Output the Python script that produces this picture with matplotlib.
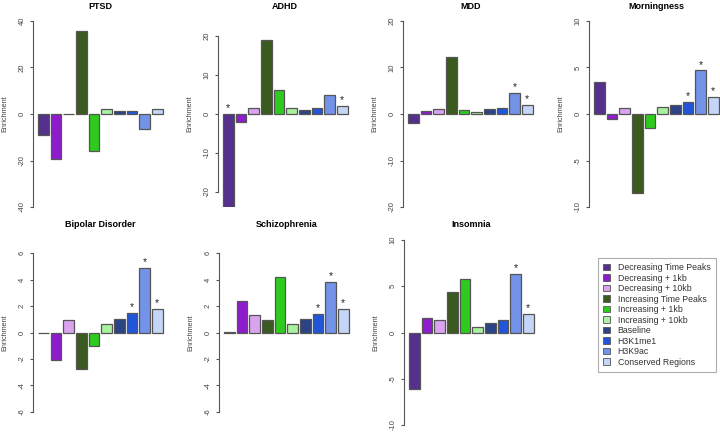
#!/usr/bin/env python

import matplotlib
matplotlib.use('Agg')
import matplotlib.pyplot as plt
from matplotlib.patches import Patch

plt.rcParams['font.family'] = ['Liberation Sans', 'DejaVu Sans']

categories = ['Decreasing Time Peaks', 'Decreasing + 1kb', 'Decreasing + 10kb',
              'Increasing Time Peaks', 'Increasing + 1kb', 'Increasing + 10kb',
              'Baseline', 'H3K1me1', 'H3K9ac', 'Conserved Regions']
colors = ['#55308d', '#8e1ccc', '#d9a3f0', '#3b5a20', '#2ecb1e', '#a9f0a0',
          '#2b4485', '#2156db', '#7393e8', '#c5d5f7']

traits = ['PTSD', 'ADHD', 'MDD', 'Morningness', 'Bipolar Disorder', 'Schizophrenia', 'Insomnia']

ptsd = [-9.2, -19.2, 0.2, 35.6, -16.1, 2.0, 1.1, 1.3, -6.5, 2.3]
adhd = [-23.9, -2.0, 1.5, 18.9, 6.1, 1.5, 1.0, 1.5, 5.0, 2.0]
mdd = [-1.9, 0.7, 1.1, 12.2, 0.9, 0.5, 1.0, 1.2, 4.5, 1.9]
morningness = [3.45, -0.5, 0.65, -8.45, -1.5, 0.75, 1.0, 1.33, 4.7, 1.87]
bipolar = [-0.03, -2.06, 0.97, -2.77, -1.04, 0.64, 0.99, 1.48, 4.91, 1.76]
schizophrenia = [0.04, 2.37, 1.32, 0.92, 4.22, 0.64, 0.99, 1.40, 3.84, 1.78]
insomnia = [-6.14, 1.62, 1.37, 4.40, 5.74, 0.58, 1.01, 1.34, 6.35, 1.99]

# significance stars, index of bar
ptsd_sig = []
adhd_sig = [0, 9]
mdd_sig = [8, 9]
morningness_sig = [7, 8, 9]
bipolar_sig = [7, 8, 9]
schizophrenia_sig = [7, 8, 9]
insomnia_sig = [8, 9]

ylims = [40, 23.9, 20, 10, 7, 7, 10]
yticks = [[-40, -20, 0, 20, 40], [-20, -10, 0, 10, 20], [-20, -10, 0, 10, 20],
          [-10, -5, 0, 5, 10], [-6, -4, -2, 0, 2, 4, 6], [-6, -4, -2, 0, 2, 4, 6],
          [-10, -5, 0, 5, 10]]

values = [ptsd, adhd, mdd, morningness, bipolar, schizophrenia, insomnia]
sigs = [ptsd_sig, adhd_sig, mdd_sig, morningness_sig, bipolar_sig, schizophrenia_sig, insomnia_sig]

W, H = 720, 432
# plot regions in pixels: left edge, top, bottom, title baseline
regions = [(33, 21, 207, 9), (218, 21, 207, 9), (403, 21, 207, 9), (589, 21, 207, 9),
           (33, 240, 425, 227), (219, 240, 425, 227), (404, 240, 425, 227)]
panel_w = 134.5

axis_col = '#555555'

fig = plt.figure(figsize=(W / 100, H / 100), dpi=100)

# R style barplot positions: width 1, space 0.2
xpos = [0.7 + 1.2 * i for i in range(len(categories))]

for name, vals, sig, lim, ticks, (left, top, bottom, tb) in zip(traits, values, sigs, ylims, yticks, regions):
    ax = fig.add_axes([left / W, 1 - bottom / H, panel_w / W, (bottom - top) / H])
    ax.bar(xpos, vals, width=1.0, color=colors, edgecolor=axis_col, linewidth=0.9)
    for i in sig:
        ax.annotate('*', (xpos[i], max(vals[i], 0)), xytext=(0, 0.5), textcoords='offset points',
                    ha='center', va='bottom', fontsize=7.5, color='#222222')
    ax.set_xlim(-0.272, 12.472)
    ax.set_ylim(-lim, lim)
    ax.set_yticks(ticks)
    ax.set_yticklabels([str(t) for t in ticks], rotation=90, va='center', fontsize=5.5, color='#444444')
    ax.tick_params(axis='y', length=2.2, width=0.8, color=axis_col, pad=3.2)
    ax.set_xticks([])
    for s in ['top', 'right', 'bottom']:
        ax.spines[s].set_visible(False)
    ax.spines['left'].set_bounds(ticks[0], ticks[-1])
    ax.spines['left'].set_color(axis_col)
    ax.spines['left'].set_linewidth(0.8)
    ax.set_ylabel('Enrichment', fontsize=5.2, color='#444444')
    ax.yaxis.set_label_coords(-25 / panel_w, 0.5)
    ax.set_title(name, fontsize=6.5, fontweight='bold', pad=0,
                 y=1 + (top - tb) / (bottom - top))
    ax.patch.set_visible(False)

handles = [Patch(facecolor=c, edgecolor=axis_col, linewidth=0.6) for c in colors]
leg = fig.legend(handles, categories, loc='upper left', bbox_to_anchor=(598 / W, 1 - 258 / H),
                 fontsize=6.3, frameon=True, fancybox=False, edgecolor='#999999',
                 handlelength=0.75, handleheight=0.75, handletextpad=0.9, labelspacing=0.17,
                 borderpad=0.6, borderaxespad=0)
leg.get_frame().set_linewidth(0.8)
for t in leg.get_texts():
    t.set_color('#333333')

plt.savefig('out.png', dpi=100)
plt.close()
